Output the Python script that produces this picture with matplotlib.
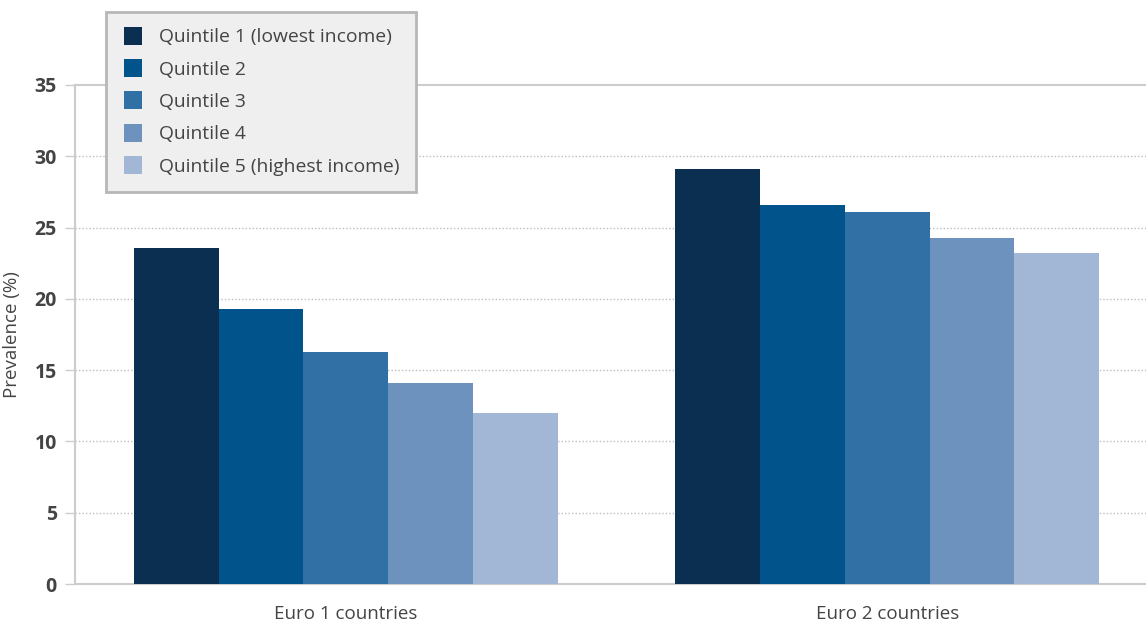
import numpy as np
import matplotlib
matplotlib.use('Agg')
import matplotlib.pyplot as plt
from matplotlib.lines import Line2D

groups = ['Euro 1 countries', 'Euro 2 countries']
quintiles = ['Quintile 1 (lowest income)', 'Quintile 2', 'Quintile 3',
             'Quintile 4', 'Quintile 5 (highest income)']
q1 = [23.6, 29.1]
q2 = [19.3, 26.6]
q3 = [16.3, 26.1]
q4 = [14.1, 24.3]
q5 = [12.0, 23.2]
yticks = [0, 5, 10, 15, 20, 25, 30, 35]

colors = ['#0a2f50', '#00538b', '#3070a5', '#6d92bd', '#a2b6d5']
text_col = '#444444'
grid_col = '#bdbdbd'

plt.rcParams['font.family'] = ['Open Sans', 'DejaVu Sans']


def main():
    fig = plt.figure(figsize=(11.46, 6.22), dpi=100)
    ax = fig.add_axes([75 / 1146, 1 - 584 / 622, 1 - 75 / 1146, (584 - 85) / 622])

    x = np.arange(len(groups))
    width = 0.1565
    series = [q1, q2, q3, q4, q5]
    for i, vals in enumerate(series):
        ax.bar(x + (i - 2) * width, vals, width, color=colors[i],
               label=quintiles[i], zorder=3, linewidth=0)

    ax.set_xlim(-0.5, 1.478)
    ax.set_ylim(0, 35)
    ax.set_yticks(yticks)
    ax.set_yticklabels([str(t) for t in yticks], fontsize=14,
                       fontweight='bold', color=text_col)
    ax.set_xticks(x)
    ax.set_xticklabels(groups, fontsize=13.5, color=text_col)
    ax.tick_params(axis='x', length=0, pad=15)
    ax.tick_params(axis='y', length=7, color='#cccccc', width=1, pad=6)

    for t in yticks[1:-1]:
        ax.axhline(t, color=grid_col, lw=1, ls=(0, (1, 1.5)), zorder=1)
    ax.axhline(35, color='#cccccc', lw=1.5, zorder=1, clip_on=False)

    for s in ['right', 'top']:
        ax.spines[s].set_visible(False)
    ax.spines['left'].set_color('#cccccc')
    ax.spines['left'].set_linewidth(1.5)
    ax.spines['bottom'].set_color('#cccccc')
    ax.spines['bottom'].set_linewidth(1.5)

    ax.set_ylabel('Prevalence (%)', fontsize=13.5, color=text_col, labelpad=10)

    handles = [Line2D([], [], marker='s', ls='none', markersize=13,
                      markerfacecolor=c, markeredgewidth=0) for c in colors]
    leg = fig.legend(handles, quintiles, loc='upper left',
                     bbox_to_anchor=(106 / 1146, 1 - 12 / 622),
                     frameon=True, fancybox=False, framealpha=1,
                     facecolor='#efefef', edgecolor='#b5b7b9',
                     fontsize=13.9, labelspacing=0.74, handletextpad=0.78,
                     borderpad=0.85, borderaxespad=0, handlelength=1.1)
    leg.get_frame().set_linewidth(2)
    for t in leg.get_texts():
        t.set_color(text_col)

    fig.savefig('out.png', dpi=100)


if __name__ == "__main__":
    main()
